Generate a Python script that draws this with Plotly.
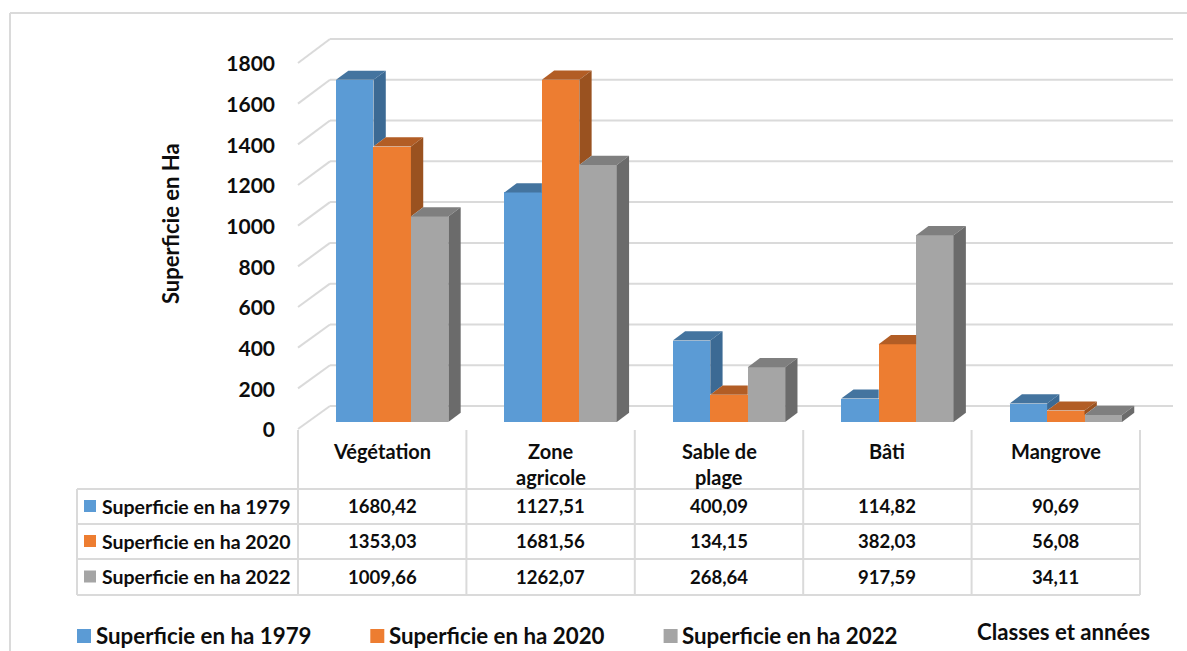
import plotly.graph_objects as go

# ---------- data ----------
categories = ["Végétation", "Zone\nagricole", "Sable de\nplage", "Bâti", "Mangrove"]
series_names = ["Superficie en ha 1979", "Superficie en ha 2020", "Superficie en ha 2022"]
values_1979 = [1680.42, 1127.51, 400.09, 114.82, 90.69]
values_2020 = [1353.03, 1681.56, 134.15, 382.03, 56.08]
values_2022 = [1009.66, 1262.07, 268.64, 917.59, 34.11]
labels_1979 = ["1680,42", "1127,51", "400,09", "114,82", "90,69"]
labels_2020 = ["1353,03", "1681,56", "134,15", "382,03", "56,08"]
labels_2022 = ["1009,66", "1262,07", "268,64", "917,59", "34,11"]
y_ticks = [0, 200, 400, 600, 800, 1000, 1200, 1400, 1600, 1800]

front_colors = ["#5B9BD5", "#ED7D31", "#A5A5A5"]
side_colors = ["#3C6A94", "#9A5220", "#6B6B6B"]
top_colors = ["#44749F", "#B25D25", "#7F7F7F"]

series = [values_1979, values_2020, values_2022]
table_rows = [labels_1979, labels_2020, labels_2022]

# ---------- page geometry ----------
W, H = 1187, 651
CAT_PX = 168.4
X0_PX = 382.2      # centre of the first category
Y0_PX = 422.0      # baseline of the bars
PX_PER_UNIT = 0.2036
GRID = "#DADADA"
FONT = "Lato"
TEXT = "#0D0D0D"


def xd(px):
    return (px - X0_PX) / CAT_PX


def yd(px):
    return (Y0_PX - px) / PX_PER_UNIT


def px_x(px):
    return px / W


BAR_W = 37.45 / CAT_PX
BAR_SHIFT = 10.0 / CAT_PX
DX = 12.3 / CAT_PX
DY = 9.2 / PX_PER_UNIT

fig = go.Figure()
shapes = []
annotations = []


def line(x0, y0, x1, y1, width=2, color=GRID):
    shapes.append(dict(type="line", xref="x", yref="y", x0=xd(x0), x1=xd(x1), y0=yd(y0), y1=yd(y1),
                       line=dict(color=color, width=width), layer="below"))


def text(px, py, s, size, anchor="center"):
    annotations.append(dict(xref="x", yref="y", x=xd(px), y=yd(py), text=s, showarrow=False, xanchor=anchor,
                            yanchor="middle", font=dict(family=FONT, size=size, color=TEXT)))


# frame
line(10, 13, 10, H, 2)
line(10, 13, W, 13, 2)

# wall grid: front-left corner to the back wall, then along the wall
for t in y_ticks:
    front = 429 - t * (366 / 1800)
    back = 406 - t * (367 / 1800)
    line(298, front, 330, back)
    line(330, back, 1173, back)

# bars: left-to-right so that each front hides the part of its neighbour's side behind it
for s, vals in enumerate(series):
    offset = BAR_SHIFT + (s - 1.5) * BAR_W
    fig.add_trace(go.Bar(x=[i + offset for i in range(len(vals))], y=vals, width=BAR_W, offset=0,
                         marker=dict(color=front_colors[s], line=dict(width=0)),
                         name=series_names[s], showlegend=False))
    for i, v in enumerate(vals):
        left = i + offset
        right = left + BAR_W
        nxt = series[s + 1][i] if s < 2 else None
        # top face
        if nxt is not None and nxt > v:
            tx = [left, right, right, left + DX, left]
        else:
            tx = [left, right, right + DX, left + DX, left]
        ty = [v, v, v + DY, v + DY, v]
        fig.add_trace(go.Scatter(x=tx, y=ty, mode="lines", fill="toself", fillcolor=top_colors[s],
                                 line=dict(width=0), hoverinfo="skip", showlegend=False))
        # side face
        if nxt is None:
            floor = 0
        elif nxt < v:
            floor = nxt
        else:
            continue
        sx = [right, right + DX, right + DX, right, right]
        sy = [floor, floor + DY, v + DY, v, floor]
        fig.add_trace(go.Scatter(x=sx, y=sy, mode="lines", fill="toself", fillcolor=side_colors[s],
                                 line=dict(width=0), hoverinfo="skip", showlegend=False))

# data table
TABLE_LEFT = 77
TABLE_TOP = 430
ROWS_Y = [489, 524, 559, 595]
for i in range(len(categories) + 1):
    x = 298 + i * CAT_PX
    line(x, TABLE_TOP, x, ROWS_Y[-1])
line(TABLE_LEFT, ROWS_Y[0], TABLE_LEFT, ROWS_Y[-1])
for y in ROWS_Y:
    line(TABLE_LEFT, y, 298 + 5 * CAT_PX, y)

for i, c in enumerate(categories):
    for k, part in enumerate(c.split("\n")):
        text(X0_PX + i * CAT_PX, 451 + k * 26, part, 20)

marker_x, marker_y, marker_c = [], [], []
for r, row in enumerate(table_rows):
    cy = (ROWS_Y[r] + ROWS_Y[r + 1]) / 2 - 0.5
    text(99.5, cy, series_names[r], 19.5, "left")
    marker_x.append(xd(90))
    marker_y.append(yd(cy))
    marker_c.append(front_colors[r])
    for i, lab in enumerate(row):
        text(X0_PX + i * CAT_PX, cy, lab, 18.5)

# legend row
for s, name in enumerate(series_names):
    lx = 84 + s * 293.3
    marker_x.append(xd(lx))
    marker_y.append(yd(636))
    text(lx + 9.5, 635.5, name, 22.3, "left")

sizes = [12, 12, 12, 14, 14, 14]
fig.add_trace(go.Scatter(x=marker_x, y=marker_y, mode="markers",
                         marker=dict(symbol="square", size=sizes, opacity=1, color=marker_c + front_colors,
                                     line=dict(width=0)),
                         hoverinfo="skip", showlegend=False))

# axis title and x title
annotations.append(dict(xref="x", yref="y", x=xd(170), y=yd(224), text="Superficie en Ha", showarrow=False,
                        textangle=-90, font=dict(family=FONT, size=22, color=TEXT)))
text(1063.5, 631, "Classes et années", 22.2)

# invisible trace that carries the value axis drawn on the chart's front corner
fig.add_trace(go.Scatter(x=[None], y=[None], yaxis="y2", showlegend=False, hoverinfo="skip"))

LABEL_ZERO_PX = 430
fig.update_layout(
    width=W, height=H, autosize=False, margin=dict(l=0, r=0, t=0, b=0),
    paper_bgcolor="white", plot_bgcolor="white", barmode="overlay", bargap=0,
    showlegend=False, shapes=shapes, annotations=annotations,
    xaxis=dict(range=[xd(0), xd(W)], visible=False, fixedrange=True),
    yaxis=dict(range=[yd(H), yd(0)], visible=False, fixedrange=True),
    yaxis2=dict(overlaying="y", anchor="free", position=px_x(298), side="left",
                domain=[0, 1], range=[-(H - LABEL_ZERO_PX) * 1800 / 366, LABEL_ZERO_PX * 1800 / 366],
                tickmode="array", tickvals=y_ticks, ticktext=[str(t) for t in y_ticks],
                ticks="", showgrid=False, zeroline=False, showline=False, ticklabelstandoff=23,
                tickfont=dict(family=FONT, size=21, color=TEXT, weight="bold"), fixedrange=True),
)
for a in fig.layout.annotations:
    a.font.weight = "bold"

fig.write_html("out.html", config={"displayModeBar": False},
               post_script="document.body.style.margin='0';")
